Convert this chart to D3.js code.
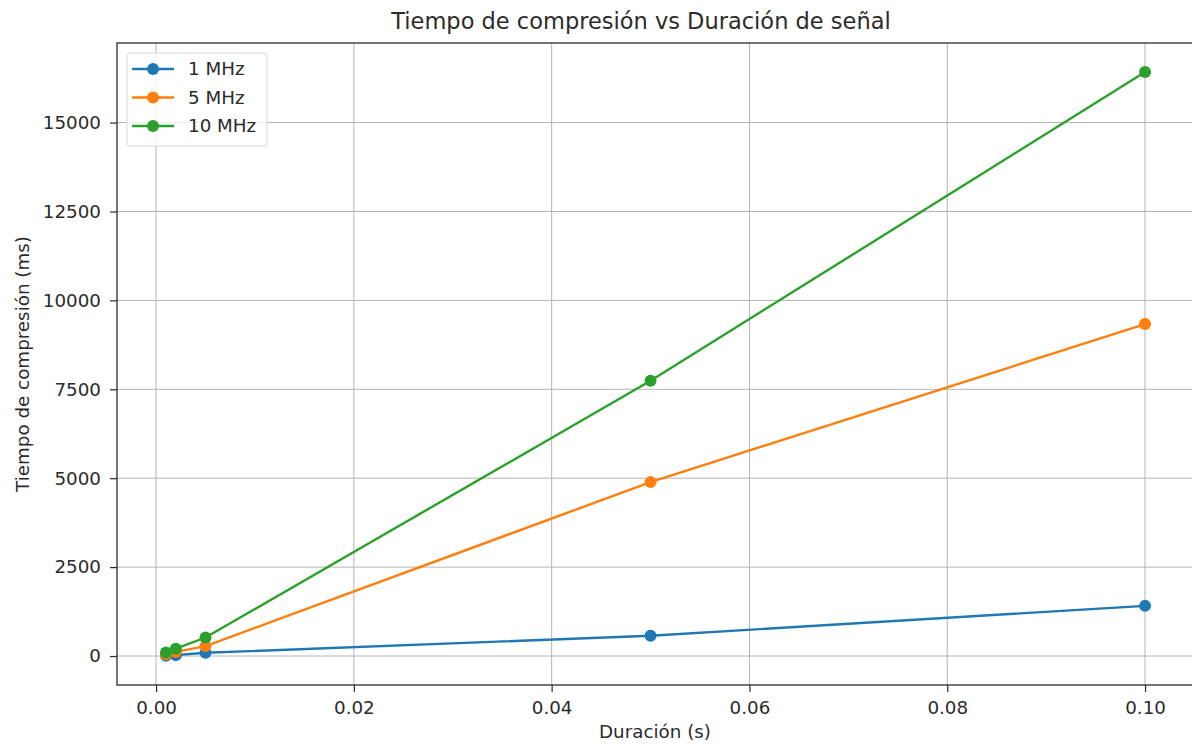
<!DOCTYPE html>
<html><head><meta charset="utf-8">
<script src="https://cdn.jsdelivr.net/npm/d3@7/dist/d3.min.js"></script>
<style>
  html,body{margin:0;padding:0;background:#fff;overflow:hidden}
  svg{display:block;font-family:"DejaVu Sans",sans-serif}
</style></head>
<body><svg id="chart" width="1192" height="747"></svg>
<script>
// Tiempo de compresión vs Duración de señal
const durations = [0.001, 0.002, 0.005, 0.05, 0.1];
const t1MHz  = [8, 25, 90, 570, 1410];
const t5MHz  = [45, 115, 280, 4890, 9335];
const t10MHz = [100, 205, 520, 7740, 16420];
const seriesNames = ['1 MHz', '5 MHz', '10 MHz'];
const xTicks = [0, 0.02, 0.04, 0.06, 0.08, 0.10];
const yTicks = [0, 2500, 5000, 7500, 10000, 12500, 15000];

const C = ['#1f77b4', '#ff7f0e', '#2ca02c'];
const series = [t1MHz, t5MHz, t10MHz].map((v,i)=>({name:seriesNames[i], col:C[i], pts:durations.map((d,j)=>[d,v[j]])}));

const svg = d3.select('#chart');
const m = {t:43, l:117, r:1194, b:685};
const x = d3.scaleLinear().domain([-0.00395, 0.10495]).range([m.l, m.r]);
const y = d3.scaleLinear().domain([-815, 17238]).range([m.b, m.t]);
const ink = '#2b2b2b', fs = 18.3;

// grid
const grid = svg.append('g').attr('stroke','#b4b4b4').attr('stroke-width',1);
xTicks.forEach(t=>grid.append('line').attr('x1',x(t)).attr('x2',x(t)).attr('y1',m.t).attr('y2',m.b));
yTicks.forEach(t=>grid.append('line').attr('x1',m.l).attr('x2',m.r).attr('y1',y(t)).attr('y2',y(t)));

// axes
const gx = svg.append('g').attr('transform',`translate(0,${m.b})`)
  .call(d3.axisBottom(x).tickValues(xTicks).tickFormat(d3.format('.2f')).tickSizeOuter(0).tickSize(7).tickPadding(6));
const gy = svg.append('g').attr('transform',`translate(${m.l},0)`)
  .call(d3.axisLeft(y).tickValues(yTicks).tickFormat(d3.format('d')).tickSizeOuter(0).tickSize(7).tickPadding(9));
[gx,gy].forEach(g=>{
  g.select('.domain').remove();
  g.selectAll('line').attr('stroke',ink).attr('stroke-width',1.2);
  g.selectAll('text').attr('fill',ink).attr('font-size',fs).attr('font-family','DejaVu Sans');
});
gx.selectAll('text').attr('dy','0.85em');

// spines
svg.append('rect').attr('x',m.l).attr('y',m.t).attr('width',m.r-m.l).attr('height',m.b-m.t)
  .attr('fill','none').attr('stroke',ink).attr('stroke-width',1.3);

// series
const line = d3.line().x(d=>x(d[0])).y(d=>y(d[1]));
series.forEach(s=>{
  svg.append('path').attr('d',line(s.pts)).attr('fill','none').attr('stroke',s.col).attr('stroke-width',2.4);
  svg.append('g').selectAll('circle').data(s.pts).join('circle')
    .attr('cx',d=>x(d[0])).attr('cy',d=>y(d[1])).attr('r',6).attr('fill',s.col);
});

// legend
const lg = svg.append('g').attr('transform','translate(127,53)');
lg.append('rect').attr('width',140).attr('height',93).attr('rx',3)
  .attr('fill','#fff').attr('fill-opacity',0.8).attr('stroke','#d8d8d8');
series.forEach((s,i)=>{
  const yy = 16 + i*28.5;
  lg.append('line').attr('x1',5).attr('x2',47).attr('y1',yy).attr('y2',yy).attr('stroke',s.col).attr('stroke-width',2.4);
  lg.append('circle').attr('cx',26).attr('cy',yy).attr('r',6).attr('fill',s.col);
  lg.append('text').attr('x',61).attr('y',yy).attr('dy','0.35em').attr('font-size',fs).attr('fill',ink).text(s.name);
});

// labels
svg.append('text').attr('x',641).attr('y',29).attr('text-anchor','middle').attr('font-size',22.5).attr('fill',ink)
  .text('Tiempo de compresión vs Duración de señal');
svg.append('text').attr('x',655).attr('y',738).attr('text-anchor','middle').attr('font-size',fs).attr('fill',ink)
  .text('Duración (s)');
svg.append('text').attr('transform','translate(29,364) rotate(-90)').attr('text-anchor','middle').attr('font-size',fs).attr('fill',ink)
  .text('Tiempo de compresión (ms)');
</script>
</body></html>
